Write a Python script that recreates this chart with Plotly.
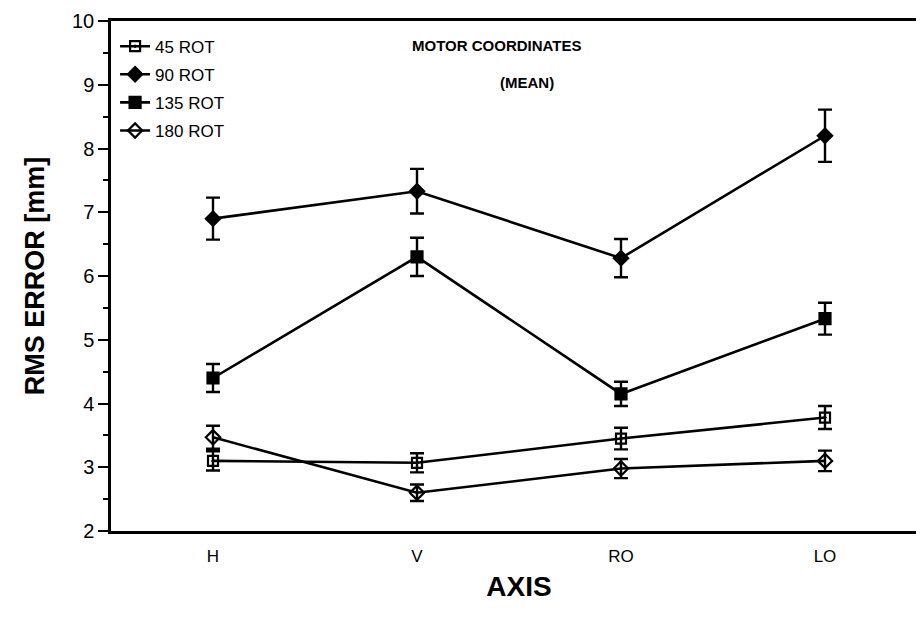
import plotly.graph_objects as go

categories = ["H", "V", "RO", "LO"]
series_names = ["45 ROT", "90 ROT", "135 ROT", "180 ROT"]
rot45 = [3.10, 3.07, 3.45, 3.78]
rot45_err = [0.15, 0.15, 0.17, 0.18]
rot90 = [6.90, 7.33, 6.28, 8.20]
rot90_err = [0.33, 0.35, 0.30, 0.41]
rot135 = [4.40, 6.30, 4.15, 5.33]
rot135_err = [0.22, 0.30, 0.19, 0.25]
rot180 = [3.47, 2.60, 2.98, 3.10]
rot180_err = [0.18, 0.13, 0.15, 0.16]
y_ticks = [2, 3, 4, 5, 6, 7, 8, 9, 10]

values = [rot45, rot90, rot135, rot180]
errors = [rot45_err, rot90_err, rot135_err, rot180_err]
symbols = ["square-open-dot", "diamond", "square", "diamond-open"]
sizes = [10, 11, 11, 11]

FONT = "Liberation Sans, Arial, Helvetica, sans-serif"

fig = go.Figure()
for i, (name, vals, errs, sym, sz) in enumerate(zip(series_names, values, errors, symbols, sizes)):
    fig.add_trace(go.Scatter(
        x=categories, y=vals, name=name, mode="lines+markers",
        legendgroup=f"g{i}",
        line=dict(color="black", width=2.6),
        marker=dict(symbol=sym, size=sz, color="black",
                    line=dict(color="black", width=2.2)),
        error_y=dict(type="data", array=errs, visible=True,
                     color="black", thickness=2.4, width=7),
    ))

fig.update_layout(
    width=924, height=619,
    margin=dict(l=103, r=2, t=13, b=96),
    paper_bgcolor="white", plot_bgcolor="white",
    font=dict(family=FONT, color="black", size=17),
    showlegend=True,
    legend=dict(x=0.005, y=0.985, xanchor="left", yanchor="top",
                bgcolor="rgba(0,0,0,0)", font=dict(size=17),
                itemwidth=30, tracegroupgap=3),
    xaxis=dict(
        type="category", range=[-0.5, 3.5],
        showline=True, linecolor="black", linewidth=2.5, mirror=True,
        showgrid=False, ticks="outside", ticklen=8, tickcolor="rgba(0,0,0,0)",
        tickfont=dict(size=17),
        title=dict(text="<b>AXIS</b>", font=dict(size=28), standoff=12),
    ),
    yaxis=dict(
        range=[2, 10], tickvals=y_ticks,
        showline=True, linecolor="black", linewidth=2.5, mirror=True,
        showgrid=False, zeroline=False,
        ticks="outside", ticklen=10, tickwidth=2, tickcolor="black",
        minor=dict(dtick=0.5, ticks="outside", ticklen=5, tickwidth=1.5, tickcolor="black"),
        tickfont=dict(size=20),
        title=dict(text="<b>RMS ERROR [mm]</b>", font=dict(size=27), standoff=20),
    ),
    annotations=[
        dict(text="<b>MOTOR COORDINATES</b>", x=0.473, y=0.972, xref="paper", yref="paper",
             showarrow=False, font=dict(size=15)),
        dict(text="<b>(MEAN)</b>", x=0.51, y=0.9, xref="paper", yref="paper",
             showarrow=False, font=dict(size=15)),
    ],
)

fig.write_html("out.html")
